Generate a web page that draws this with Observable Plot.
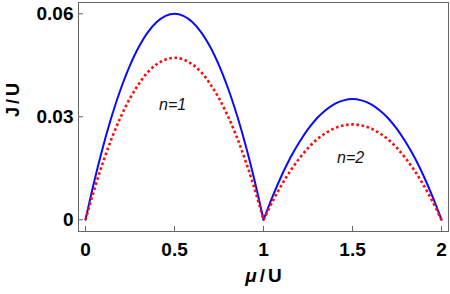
<!DOCTYPE html>
<html><head><meta charset="utf-8">
<script src="https://cdn.jsdelivr.net/npm/d3@7"></script>
<script src="https://cdn.jsdelivr.net/npm/@observablehq/plot@0.6"></script>
<style>body{margin:0;background:#fff}</style>
</head><body><div id="chart"></div>
<script>
// mu/U sample positions for each Mott lobe
const muLobe1 = [0,0.05,0.1,0.15,0.2,0.25,0.3,0.35,0.4,0.45,0.5,0.55,0.6,0.65,0.7,0.75,0.8,0.85,0.9,0.95,1];
const muLobe2 = [1,1.05,1.1,1.15,1.2,1.25,1.3,1.35,1.4,1.45,1.5,1.55,1.6,1.65,1.7,1.75,1.8,1.85,1.9,1.95,2];
// J/U values
const blueLobe1 = [0,0.0114,0.0216,0.0306,0.0384,0.0450,0.0504,0.0546,0.0576,0.0594,0.0600,0.0594,0.0576,0.0546,0.0504,0.0450,0.0384,0.0306,0.0216,0.0114,0];
const redLobe1  = [0,0.0090,0.0170,0.0241,0.0302,0.0354,0.0396,0.0430,0.0453,0.0467,0.0472,0.0467,0.0453,0.0430,0.0396,0.0354,0.0302,0.0241,0.0170,0.0090,0];
const blueLobe2 = [0,0.0067,0.0127,0.0180,0.0225,0.0264,0.0296,0.0320,0.0338,0.0348,0.0352,0.0348,0.0338,0.0320,0.0296,0.0264,0.0225,0.0180,0.0127,0.0067,0];
const redLobe2  = [0,0.0053,0.0100,0.0142,0.0178,0.0209,0.0234,0.0253,0.0267,0.0275,0.0278,0.0275,0.0267,0.0253,0.0234,0.0209,0.0178,0.0142,0.0100,0.0053,0];

const xTicks = [0,0.5,1,1.5,2];
const xTickLabels = ["0","0.5","1","1.5","2"];
const yTicks = [0,0.03,0.06];
const yTickLabels = ["0","0.03","0.06"];

const lobeLabels = ["n=1","n=2"];
const lobeLabelX = [0.489,1.489];
const lobeLabelY = [0.0336,0.0181];

function build(mus, vals, lobe){ return mus.map((m,i)=>({mu:m, J:vals[i], lobe})); }
const blueData = [...build(muLobe1, blueLobe1, 1), ...build(muLobe2, blueLobe2, 2)];
const redData  = [...build(muLobe1, redLobe1, 1), ...build(muLobe2, redLobe2, 2)];
const annots = lobeLabels.map((t,i)=>({text:t, x:lobeLabelX[i], y:lobeLabelY[i]}));

const W = 450, H = 294, mL = 78, mR = 2, mT = 2, mB = 63;
const frameW = W - mL - mR, frameH = H - mT - mB;

const chart = Plot.plot({
  width: W, height: H,
  marginLeft: mL, marginRight: mR, marginTop: mT, marginBottom: mB,
  x: {domain: [-0.0393, 2.039]},
  y: {domain: [-0.0034, 0.0633]},
  style: {fontFamily: "'Liberation Sans', Arial, sans-serif", background: "white", color: "black"},
  marks: [
    Plot.axisX(xTicks, {tickSize: 0, tickPadding: 11, fontSize: 19, fontWeight: "bold", label: null,
      tickFormat: d => xTickLabels[xTicks.indexOf(d)]}),
    Plot.axisY(yTicks, {tickSize: 0, tickPadding: 5, fontSize: 19, fontWeight: "bold", label: null,
      tickFormat: d => yTickLabels[yTicks.indexOf(d)]}),
    Plot.tickX(xTicks, {x: d => d, insetTop: frameH - 5, stroke: "#666", strokeWidth: 1}),
    Plot.tickY(yTicks, {y: d => d, insetRight: frameW - 5, stroke: "#666", strokeWidth: 1}),
    Plot.line(blueData, {x: "mu", y: "J", z: "lobe", stroke: "#0a0aff", strokeWidth: 2, curve: "catmull-rom"}),
    Plot.line(redData, {x: "mu", y: "J", z: "lobe", stroke: "#ff0a0a", strokeWidth: 2.6, strokeDasharray: "2.6,2.6", strokeLinecap: "butt", curve: "catmull-rom"}),
    Plot.text(annots, {x: "x", y: "y", text: "text", fontStyle: "italic", fontSize: 16, fill: "#111"}),
    Plot.text(["J/U"], {text: d => d, frameAnchor: "left", dx: -65, rotate: -90, fontSize: 18, fontWeight: "bold", className: "ylab"}),
    Plot.text(["μ/U"], {text: d => d, frameAnchor: "bottom", dy: 50, fontSize: 19, fontWeight: "bold", className: "xlab"}),
    Plot.frame({stroke: "#666", strokeWidth: 1})
  ]
});
document.getElementById("chart").appendChild(chart);
d3.select(chart).selectAll("text").filter(function(){ return this.textContent === "μ/U"; })
  .each(function(){
    const t = d3.select(this); t.text("");
    t.append("tspan").attr("font-style","italic").text("μ");
    t.append("tspan").attr("dx", 3).text("/");
    t.append("tspan").attr("dx", 3).text("U");
  });
d3.select(chart).selectAll("text").filter(function(){ return this.textContent === "J/U"; })
  .each(function(){
    const t = d3.select(this); t.text("");
    t.append("tspan").text("J");
    t.append("tspan").attr("dx", 3).text("/");
    t.append("tspan").attr("dx", 3).text("U");
  });
</script>
</body></html>
